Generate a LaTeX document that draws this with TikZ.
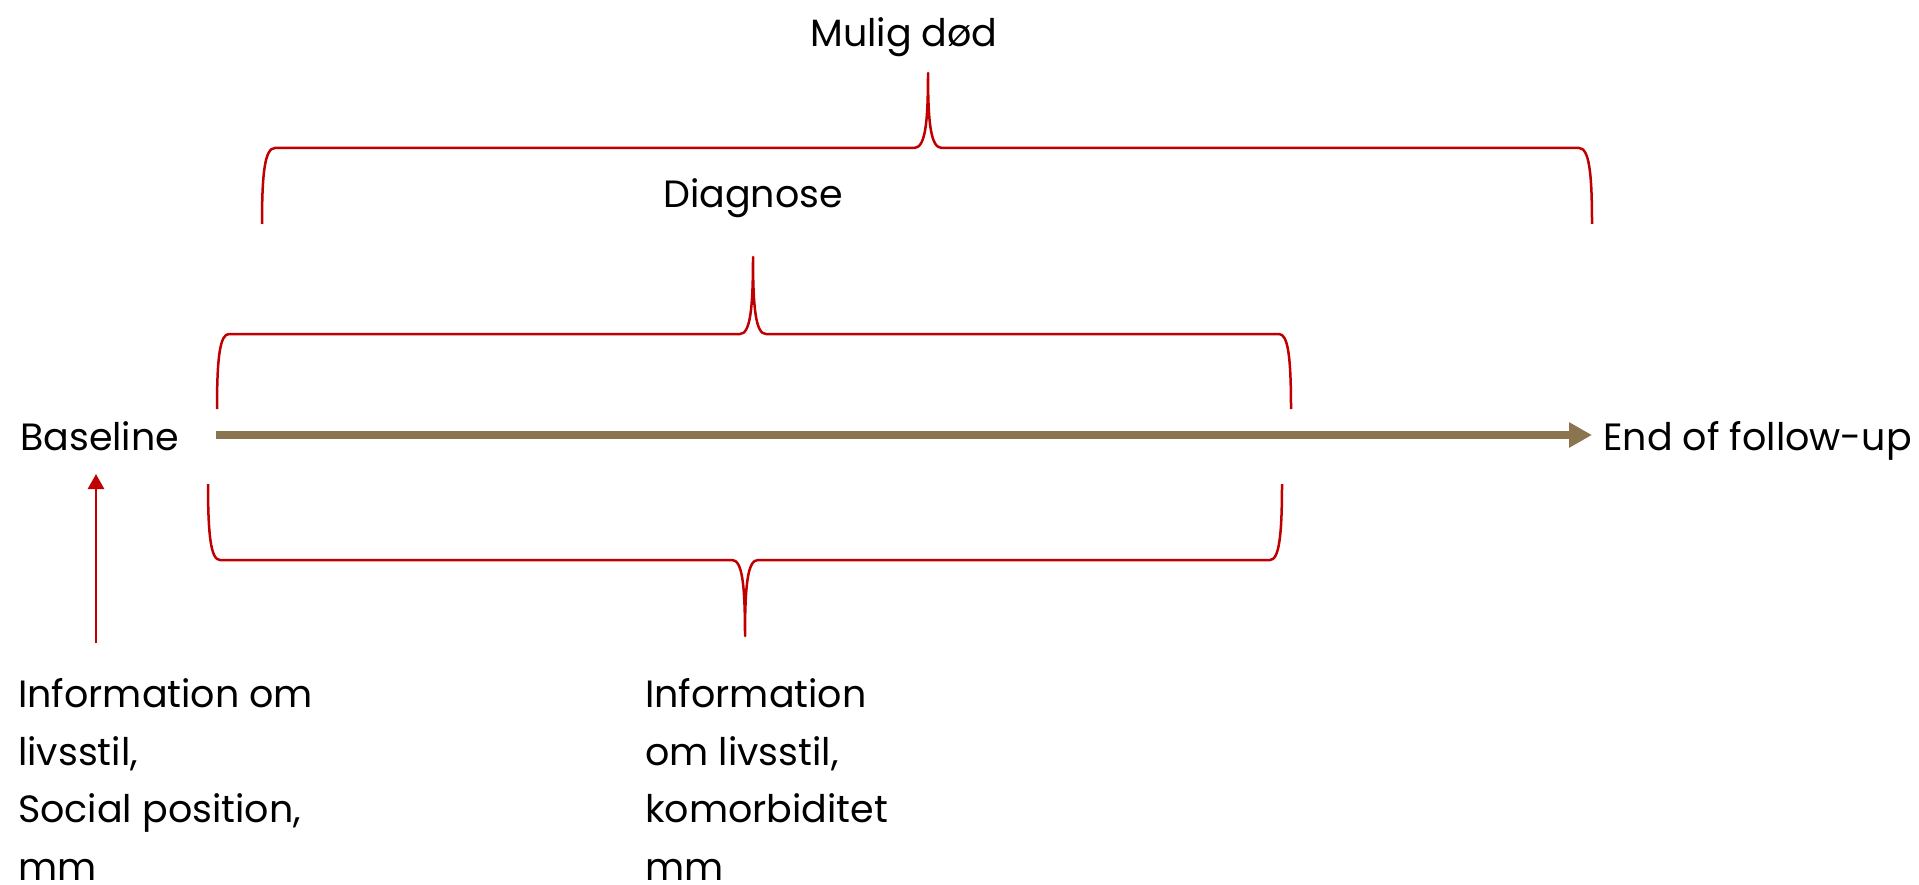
\documentclass[tikz,border=0pt]{standalone}
\usepackage{fontspec}
\setmainfont{Poppins}
\usetikzlibrary{arrows.meta}
\definecolor{bracered}{RGB}{192,0,0}
\definecolor{timebrown}{RGB}{139,117,80}
\tikzset{
  bracepath/.style={draw=bracered, line width=2.5pt, line join=round},
  timeline/.style={draw=timebrown, line width=8pt, -{Triangle[length=23pt,width=24pt]}},
  redarrow/.style={draw=bracered, line width=2.5pt, -{Triangle[length=15pt,width=16pt]}},
  lbl/.style={inner sep=0pt, font=\fontsize{38}{57.5}\selectfont, text=black},
}
\begin{document}
\begin{tikzpicture}[x=1pt,y=-1pt]
\useasboundingbox (0,0) rectangle (1919,885);
% texts
\node[lbl, anchor=base] (mulig) at (904,47) {Mulig død};
\node[lbl, anchor=base] (diag) at (753,208) {Diagnose};
\node[lbl, anchor=base west] (base) at (20,450) {Baseline};
\node[lbl, anchor=base west] (end) at (1603,450) {End of follow-up};
\node[lbl, anchor=base west, align=left] (info1) at (18,880) {Information om\\livsstil,\\Social position,\\mm};
\node[lbl, anchor=base west, align=left] (info2) at (645,880) {Information\\om livsstil,\\komorbiditet\\mm};
% timeline
\coordinate (tstart) at (216,435);
\coordinate (tend) at (1592,435);
\draw[timeline] (tstart) -- (tend);
% red arrow
\coordinate (rbot) at (96,643);
\coordinate (rtop) at (96,474);
\draw[redarrow] (rbot) -- (rtop);
% top brace
\coordinate (b1l) at (262,224);
\coordinate (b1t) at (928,73);
\coordinate (b1r) at (1592,224);
\draw[bracepath] (b1l) .. controls (262,172) and (265,148) .. (275,148) -- (914,148)
  .. controls (925,148) and (928,125) .. (b1t)
  .. controls (928,125) and (931,148) .. (942,148) -- (1579,148)
  .. controls (1589,148) and (1592,172) .. (b1r);
% middle brace
\coordinate (b2l) at (217,409);
\coordinate (b2t) at (753,257);
\coordinate (b2r) at (1291,409);
\draw[bracepath] (b2l) .. controls (217,357) and (220,334) .. (229,334) -- (740,334)
  .. controls (750,334) and (753,310) .. (b2t)
  .. controls (753,310) and (756,334) .. (766,334) -- (1279,334)
  .. controls (1288,334) and (1291,357) .. (b2r);
% bottom brace
\coordinate (b3l) at (208,484);
\coordinate (b3t) at (745,636);
\coordinate (b3r) at (1282,484);
\draw[bracepath] (b3l) .. controls (208,536) and (211,560) .. (220,560) -- (732,560)
  .. controls (742,560) and (745,583) .. (b3t)
  .. controls (745,583) and (748,560) .. (758,560) -- (1270,560)
  .. controls (1279,560) and (1282,536) .. (b3r);
\end{tikzpicture}
\end{document}
